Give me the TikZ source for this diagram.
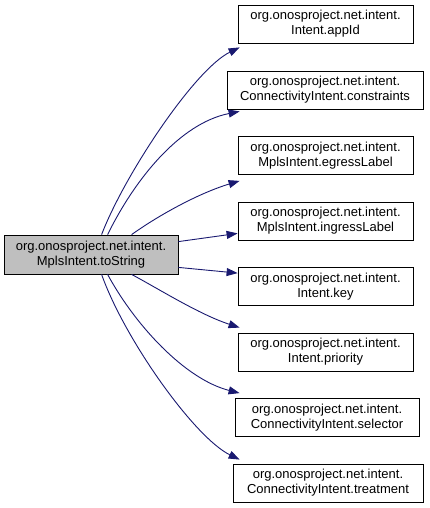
\documentclass[tikz,border=0pt]{standalone}
\usepackage{fontspec}
\setmainfont{Liberation Sans}
\usetikzlibrary{arrows.meta}
\definecolor{edgeblue}{HTML}{191970}
\definecolor{maingray}{HTML}{BFBFBF}
\begin{document}
\begin{tikzpicture}[x=1pt,y=-1pt,
  fn/.style={draw=black, line width=0.8pt, align=center, inner sep=0pt,
    minimum height=38pt, font=\fontsize{13pt}{15pt}\selectfont},
  calledge/.style={draw=edgeblue, line width=0.9pt,
    -{Triangle[length=11pt,width=8pt]}}]
\useasboundingbox (0,0) rectangle (429,508);
\node[fn, fill=maingray, minimum width=174pt, minimum height=39pt] (m) at (91,254.5)
  {org.onosproject.net.intent.\\MplsIntent.toString};
\node[fn, minimum width=175pt] (t1) at (325.5,24) {org.onosproject.net.intent.\\Intent.appId};
\node[fn, minimum width=196pt] (t2) at (325,90) {org.onosproject.net.intent.\\ConnectivityIntent.constraints};
\node[fn, minimum width=175pt] (t3) at (325.5,155.5) {org.onosproject.net.intent.\\MplsIntent.egressLabel};
\node[fn, minimum width=175pt] (t4) at (325.5,221) {org.onosproject.net.intent.\\MplsIntent.ingressLabel};
\node[fn, minimum width=175pt] (t5) at (325.5,286.5) {org.onosproject.net.intent.\\Intent.key};
\node[fn, minimum width=175pt] (t6) at (325.5,352) {org.onosproject.net.intent.\\Intent.priority};
\node[fn, minimum width=184pt] (t7) at (327,417.5) {org.onosproject.net.intent.\\ConnectivityIntent.selector};
\node[fn, minimum width=190pt] (t8) at (328,483) {org.onosproject.net.intent.\\ConnectivityIntent.treatment};
\path[calledge] ([xshift=98pt]m.north west) .. controls +(23,-60) and +(-45,22) .. ([xshift=2pt,yshift=-4pt]t1.south west);
\path[calledge] ([xshift=104pt]m.north west) .. controls +(27,-55) and +(-60,12) .. ([xshift=13pt,yshift=-2pt]t2.south west);
\path[calledge] ([xshift=128pt]m.north west) .. controls +(28,-20) and +(-40,12) .. ([xshift=2pt,yshift=-6pt]t3.south west);
\path[calledge] ([yshift=-7pt]m.north east) -- ([yshift=7pt]t4.south west);
\path[calledge] ([yshift=7pt]m.south east) -- ([yshift=-6pt]t5.north west);
\path[calledge] ([xshift=128pt]m.south west) .. controls +(28,15) and +(-40,-13) .. ([xshift=2pt,yshift=5pt]t6.north west);
\path[calledge] ([xshift=104pt]m.south west) .. controls +(27,50) and +(-55,-14) .. ([xshift=5pt,yshift=5pt]t7.north west);
\path[calledge] ([xshift=98pt]m.south west) .. controls +(23,65) and +(-45,-22) .. ([xshift=7pt,yshift=4pt]t8.north west);
\end{tikzpicture}
\end{document}
